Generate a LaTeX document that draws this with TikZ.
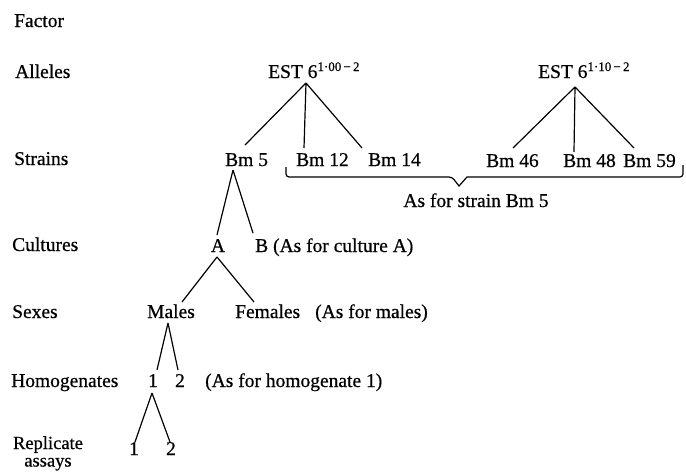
\documentclass[tikz,border=0pt]{standalone}
\usepackage{fontspec}
\setmainfont{Liberation Serif}[FakeBold=0.6]
\newcommand{\supsc}[1]{\raisebox{7pt}{\fontsize{13}{13}\selectfont #1}}
\begin{document}
\begin{tikzpicture}[x=1pt,y=-1pt,
  lbl/.style={font=\fontsize{19.5}{21}\selectfont, inner sep=0pt, anchor=base west},
  txt/.style={font=\fontsize{19.5}{21}\selectfont, inner sep=0pt, anchor=base},
  edge/.style={line width=1.2pt},
  bracestyle/.style={line width=1.2pt, rounded corners=3pt}]
\useasboundingbox (0,0) rectangle (686,474);

% factor labels
\node[lbl] (fac) at (14,27) {Factor};
\node[lbl] (all) at (15,78) {Alleles};
\node[lbl] (str) at (14,165) {Strains};
\node[lbl] (cul) at (12,251) {Cultures};
\node[lbl] (sex) at (12,318) {Sexes};
\node[lbl] (hom) at (11,387) {Homogenates};
\node[inner sep=0pt, anchor=north, align=center, font=\fontsize{18.5}{17.5}\selectfont] (rep) at (48,436) {Replicate\\assays};

% alleles
\node[lbl] (e1) at (268,78) {EST 6\supsc{1·00\,−\,2}};
\node[lbl] (e2) at (538,78) {EST 6\supsc{1·10\,−\,2}};

% strains
\node[lbl] (bm5) at (225,166) {Bm 5};
\node[lbl] (bm12) at (296,166) {Bm 12};
\node[lbl] (bm14) at (368,166) {Bm 14};
\node[lbl] (bm46) at (486,167) {Bm 46};
\node[lbl] (bm48) at (563,167) {Bm 48};
\node[lbl] (bm59) at (623,167) {Bm 59};
\node[txt] (asstr) at (476,207) {As for strain Bm 5};

% cultures
\node[txt] (ca) at (218,252) {A};
\node[lbl] (cb) at (255,252) {B (As for culture A)};

% sexes
\node[lbl] (male) at (147,318) {Males};
\node[lbl] (fem) at (235,318) {Females};
\node[lbl] (asm) at (315,318) {(As for males)};

% homogenates
\node[txt] (h1) at (153,387) {1};
\node[txt] (h2) at (180,387) {2};
\node[lbl] (ash) at (205,387) {(As for homogenate 1)};

% replicates
\node[txt] (r1) at (134,455) {1};
\node[txt] (r2) at (171,455) {2};

% connector ends
\coordinate (e1b) at (306,83);
\coordinate (bm5t) at (245,145);
\coordinate (bm12t) at (304,148);
\coordinate (bm14t) at (362,148);
\coordinate (e2b) at (575,87);
\coordinate (bm46t) at (513,148);
\coordinate (bm48t) at (574,152);
\coordinate (bm59t) at (634,148);
\coordinate (bm5b) at (233,170);
\coordinate (cat) at (217,235);
\coordinate (cbt) at (253,233);
\coordinate (cab) at (217,257);
\coordinate (malet) at (182,302);
\coordinate (femt) at (254,302);
\coordinate (maleb) at (168,323);
\coordinate (h1t) at (157,370);
\coordinate (h2t) at (178,370);
\coordinate (h1b) at (152,393);
\coordinate (r1t) at (135,442);
\coordinate (r2t) at (170,442);

\draw[edge] (e1b) -- (bm5t) (e1b) -- (bm12t) (e1b) -- (bm14t);
\draw[edge] (e2b) -- (bm46t) (e2b) -- (bm48t) (e2b) -- (bm59t);
\draw[edge] (bm5b) -- (cat) (bm5b) -- (cbt);
\draw[edge] (cab) -- (malet) (cab) -- (femt);
\draw[edge] (maleb) -- (h1t) (maleb) -- (h2t);
\draw[edge] (h1b) -- (r1t) (h1b) -- (r2t);

% brace
\coordinate (brl) at (286,167);
\coordinate (brr) at (683,165);
\coordinate (brtip) at (459,186);
\draw[bracestyle] (brl) -- (286,177) -- (452,177) [sharp corners] -- (brtip) -- (467,177) [rounded corners=3pt] -- (683,177) -- (brr);
\end{tikzpicture}
\end{document}
